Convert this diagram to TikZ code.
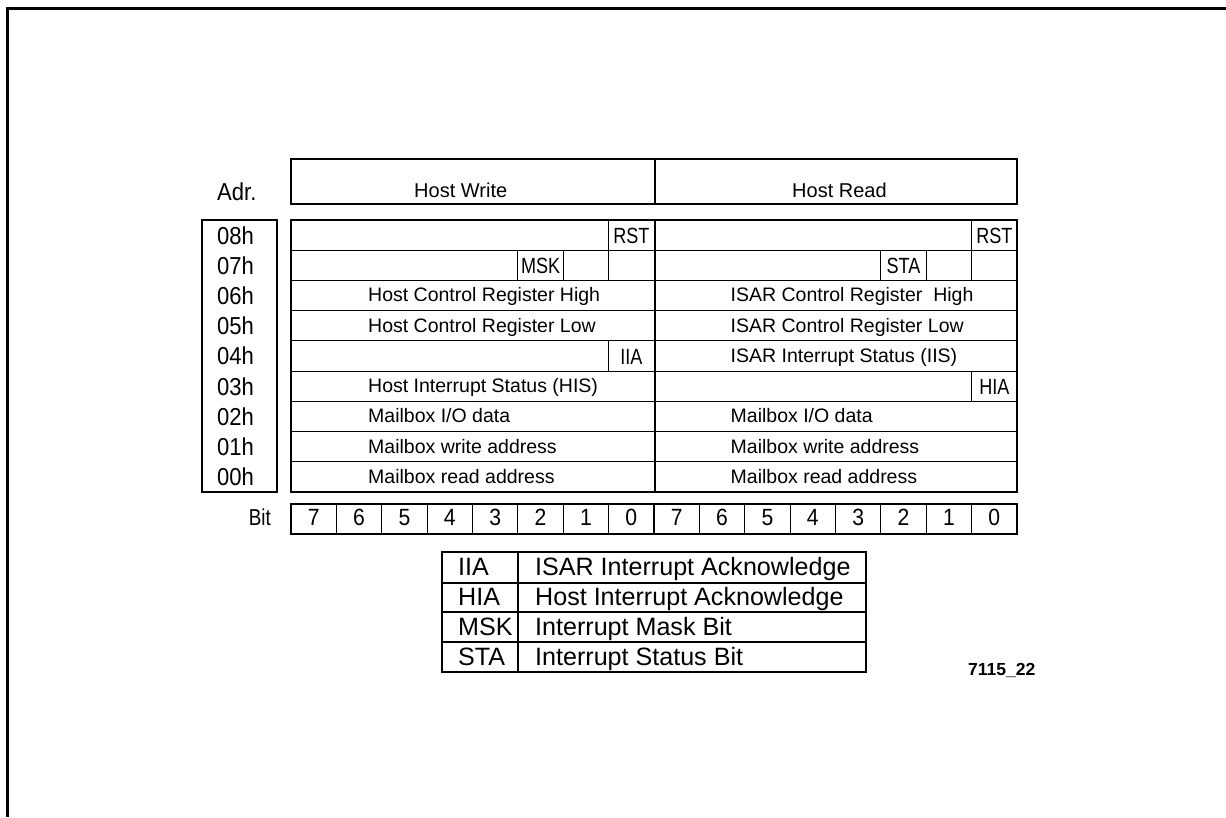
\documentclass[tikz,border=0pt]{standalone}
\usepackage{fontspec}
\setmainfont{Liberation Sans}
\newfontfamily\cndA[FakeStretch=0.82]{Liberation Sans}
\newfontfamily\cndB[FakeStretch=0.9]{Liberation Sans}
\begin{document}
\begin{tikzpicture}[x=1pt,y=-1pt,
  tl/.style={line width=1.2pt},
  frame/.style={line width=2.6pt},
  reg/.style={font=\fontsize{19.5}{20}\selectfont, inner sep=0pt, anchor=base west},
  regc/.style={font=\cndA\fontsize{22}{23}\selectfont, inner sep=0pt, anchor=base},
  adr/.style={font=\cndB\fontsize{24.5}{25}\selectfont, inner sep=0pt, anchor=base west},
  bitn/.style={font=\cndB\fontsize{23.5}{24}\selectfont, inner sep=0pt, anchor=base},
  leg/.style={font=\fontsize{25.1}{26}\selectfont, inner sep=0pt, anchor=base west},
  tag/.style={font=\bfseries\fontsize{17.5}{18}\selectfont, inner sep=0pt, anchor=base west}]
\useasboundingbox (0,0) rectangle (1226,817);
% frame (only top and left edges visible)
\draw[frame] (7.5,817) -- (7.5,8.5) -- (1226,8.5);

% header
\draw[tl] (291,159) rectangle (1017,204);
\draw[tl] (655,159) -- (655,204);
\node[reg, font=\fontsize{20}{21}\selectfont] (hw) at (414,197) {Host Write};
\node[reg, font=\fontsize{20}{21}\selectfont] (hr) at (792,197) {Host Read};
\node[adr] (adrl) at (217,200.5) {Adr.};

% address column
\draw[tl] (202,220) rectangle (277,492);
\foreach \a [count=\j from 0] in {08h,07h,06h,05h,04h,03h,02h,01h,00h}
  \node[adr] (a\j) at ({217},{220+30.222*\j+24}) {\a};

% main register table
\draw[tl] (291,220) rectangle (1017,492);
\draw[tl] (655,220) -- (655,492);
\foreach \j in {1,...,8}
  \draw[tl] ({291},{220+30.222*\j}) -- ({1017},{220+30.222*\j});
% row 08h
\draw[tl] ({291+45.375*7},{220}) -- ({291+45.375*7},{220+30.222});
\draw[tl] ({291+45.375*15},{220}) -- ({291+45.375*15},{220+30.222});
% row 07h
\foreach \c in {5,6,7,13,14,15}
  \draw[tl] ({291+45.375*\c},{220+30.222}) -- ({291+45.375*\c},{220+30.222*2});
% row 04h
\draw[tl] ({291+45.375*7},{220+30.222*4}) -- ({291+45.375*7},{220+30.222*5});
% row 03h
\draw[tl] ({291+45.375*15},{220+30.222*5}) -- ({291+45.375*15},{220+30.222*6});

% cell texts
\node[regc] (rstw) at ({291+45.375*7.5},{220+23.5}) {RST};
\node[regc] (rstr) at ({291+45.375*15.5},{220+23.5}) {RST};
\node[regc] (msk) at ({291+45.375*5.5},{220+30.222+23.5}) {MSK};
\node[regc] (sta) at ({291+45.375*13.5},{220+30.222+23.5}) {STA};
\node[regc] (iia) at ({291+45.375*7.5},{220+30.222*4+23.5}) {IIA};
\node[regc] (hia) at ({291+45.375*15.5},{220+30.222*5+23.5}) {HIA};

\node[reg] (hcrh) at (368,{220+30.222*2+21.5}) {Host Control Register High};
\node[reg] (icrh) at (730.5,{220+30.222*2+21.5}) {ISAR Control Register\ \ High};
\node[reg] (hcrl) at (368,{220+30.222*3+21.5}) {Host Control Register Low};
\node[reg] (icrl) at (730.5,{220+30.222*3+21.5}) {ISAR Control Register Low};
\node[reg] (iis) at (730.5,{220+30.222*4+21.5}) {ISAR Interrupt Status (IIS)};
\node[reg] (his) at (368,{220+30.222*5+21.5}) {Host Interrupt Status (HIS)};
\node[reg] (miow) at (368,{220+30.222*6+21.5}) {Mailbox I/O data};
\node[reg] (mior) at (730.5,{220+30.222*6+21.5}) {Mailbox I/O data};
\node[reg] (mwaw) at (368,{220+30.222*7+21.5}) {Mailbox write address};
\node[reg] (mwar) at (730.5,{220+30.222*7+21.5}) {Mailbox write address};
\node[reg] (mraw) at (368,{220+30.222*8+21.5}) {Mailbox read address};
\node[reg] (mrar) at (730.5,{220+30.222*8+21.5}) {Mailbox read address};

% bit row
\node[font=\cndA\fontsize{23}{24}\selectfont, inner sep=0pt, anchor=base east] (bitl) at (271,525) {Bit};
\draw[tl] (291,504) rectangle (1017,534);
\foreach \i in {1,...,15}
  \draw[tl] ({291+45.375*\i},504) -- ({291+45.375*\i},534);
\foreach \i in {0,...,15}{
  \pgfmathtruncatemacro\d{7-mod(\i,8)}
  \node[bitn] (b\i) at ({291+45.375*(\i+0.5)},525.5) {\d};
}

% legend
\draw[tl] (442,552) rectangle (866,672);
\draw[tl] (442,583) -- (866,583);
\draw[tl] (442,612) -- (866,612);
\draw[tl] (442,642) -- (866,642);
\draw[tl] (518,552) -- (518,672);
\node[leg] (l1a) at (458,575) {IIA};
\node[leg] (l1b) at (535,575) {ISAR Interrupt Acknowledge};
\node[leg] (l2a) at (458,605) {HIA};
\node[leg] (l2b) at (535,605) {Host Interrupt Acknowledge};
\node[leg] (l3a) at (458,635) {MSK};
\node[leg] (l3b) at (535,635) {Interrupt Mask Bit};
\node[leg] (l4a) at (458,665) {STA};
\node[leg] (l4b) at (535,665) {Interrupt Status Bit};

\node[tag] (fig) at (968,675) {7115\_22};
\end{tikzpicture}
\end{document}
